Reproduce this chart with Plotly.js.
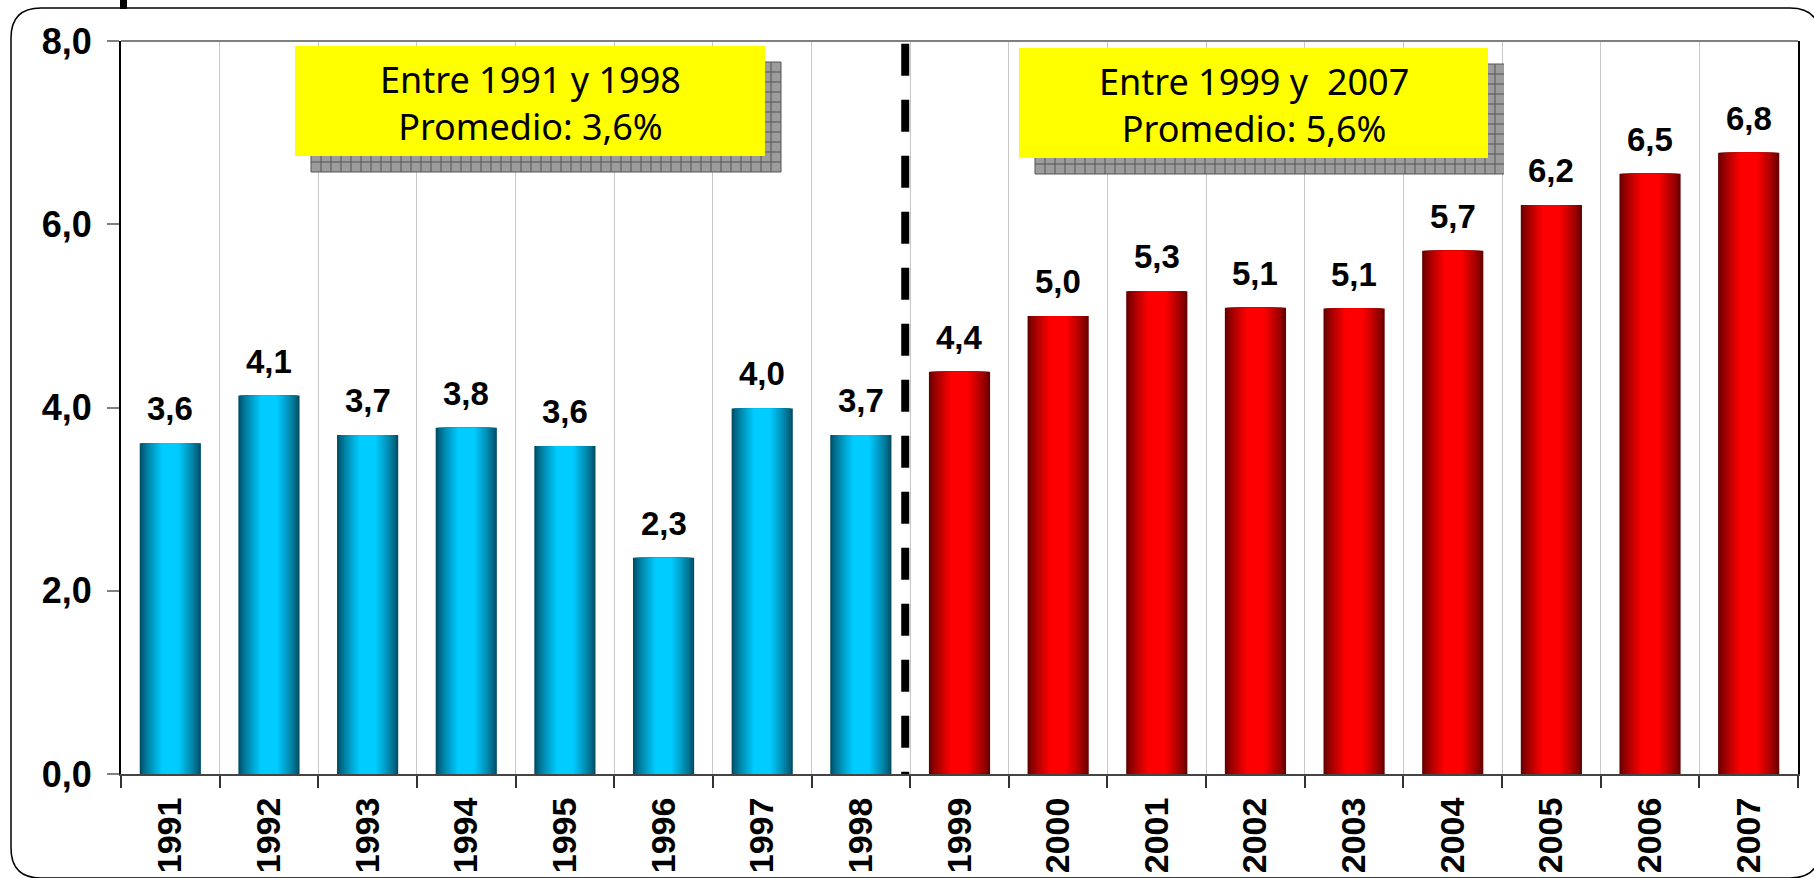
<!DOCTYPE html>
<html>
<head>
<meta charset="utf-8">
<script src="https://cdn.plot.ly/plotly-3.0.1.min.js"></script>
<style>
html,body{margin:0;padding:0;background:#fff;}
#chart{width:1814px;height:878px;}
</style>
</head>
<body>
<div id="chart"></div>
<script>
// ---- data ----
const years = ['1991','1992','1993','1994','1995','1996','1997','1998','1999','2000','2001','2002','2003','2004','2005','2006','2007'];
const values = [3.61,4.13,3.70,3.78,3.58,2.36,3.99,3.70,4.39,5.00,5.27,5.09,5.08,5.71,6.21,6.55,6.78];
const valueLabels = ['3,6','4,1','3,7','3,8','3,6','2,3','4,0','3,7','4,4','5,0','5,3','5,1','5,1','5,7','6,2','6,5','6,8'];
const firstPeriodYears = ['1991','1992','1993','1994','1995','1996','1997','1998'];
const periodNotes = ['Entre 1991 y 1998<br>Promedio: 3,6%', 'Entre 1999 y\u00A0 2007<br>Promedio: 5,6%'];

// ---- geometry helpers (pixel -> paper) ----
const W = 1814, H = 878;
const M = {l:121, r:16, t:41, b:104};
const PW = W - M.l - M.r, PH = H - M.t - M.b;
const px = x => (x - M.l) / PW;
const py = y => 1 - (y - M.t) / PH;

function hex(c){return [parseInt(c.slice(1,3),16),parseInt(c.slice(3,5),16),parseInt(c.slice(5,7),16)];}
function mix(a,b,t){const A=hex(a),B=hex(b);return 'rgb('+A.map((v,i)=>Math.round(v+(B[i]-v)*t)).join(',')+')';}

const blueDark='#004e66', blueBright='#00ccff', redDark='#660000', redBright='#ff0000';
const N = 14, fullW = 0.62;
const traces = [];
for (let i=0;i<N;i++){
  const t = i/(N-1);
  const e = Math.pow(t,0.8);
  traces.push({
    type:'bar', x:years, y:values, width:fullW*(1-0.72*t),
    marker:{color: years.map(yr => firstPeriodYears.includes(yr) ? mix(blueDark,blueBright,e) : mix(redDark,redBright,e)), line:{width:0}},
    hoverinfo: i===N-1 ? 'x+y' : 'skip', showlegend:false
  });
}

const shapes = [];
// outer rounded frame
(function(){
  const x0=11,y0=8,x1=1820,y1=878,r=30;
  const P=(x,y)=>px(x).toFixed(5)+','+py(y).toFixed(5);
  const path='M'+P(x0+r,y0)+' L'+P(x1-r,y0)+' Q'+P(x1,y0)+' '+P(x1,y0+r)+' L'+P(x1,y1-r)+' Q'+P(x1,y1)+' '+P(x1-r,y1)+
    ' L'+P(x0+r,y1)+' Q'+P(x0,y1)+' '+P(x0,y1-r)+' L'+P(x0,y0+r)+' Q'+P(x0,y0)+' '+P(x0+r,y0)+' Z';
  shapes.push({type:'path',xref:'paper',yref:'paper',path:path,line:{color:'#000',width:1.5},fillcolor:'rgba(0,0,0,0)',layer:'below'});
})();
// small mark at top
shapes.push({type:'rect',xref:'paper',yref:'paper',x0:px(120),x1:px(127),y0:py(0),y1:py(9),fillcolor:'#000',line:{width:0},layer:'above'});
// top border
shapes.push({type:'line',xref:'paper',yref:'paper',x0:0,x1:1,y0:1,y1:1,line:{color:'#808080',width:2},layer:'above'});
// dashed separator between periods (between category 7 and 8)
shapes.push({type:'line',xref:'x',yref:'y',x0:7.45,x1:7.45,y0:7.97,y1:0,line:{color:'#000',width:8,dash:'32px,24px'},layer:'above'});

// note boxes with shadow
const boxes = [
  {x0:295,y0:46,x1:765,y1:156},
  {x0:1019,y0:48,x1:1488,y1:158}
];
const annotations = [];
boxes.forEach((b,k)=>{
  const o=16;
  const sx0=b.x0+o, sy0=b.y0+o, sx1=b.x1+o, sy1=b.y1+o;
  shapes.push({type:'rect',xref:'paper',yref:'paper',x0:px(sx0),x1:px(sx1),y0:py(sy0),y1:py(sy1),fillcolor:'#9c9c9c',line:{width:0},layer:'above'});
  let gp='';
  for(let x=sx0;x<=sx1;x+=10){gp+='M'+px(x).toFixed(5)+','+py(sy0).toFixed(5)+' L'+px(x).toFixed(5)+','+py(sy1).toFixed(5)+' ';}
  for(let y=sy0;y<=sy1;y+=10){gp+='M'+px(sx0).toFixed(5)+','+py(y).toFixed(5)+' L'+px(sx1).toFixed(5)+','+py(y).toFixed(5)+' ';}
  shapes.push({type:'path',xref:'paper',yref:'paper',path:gp,line:{color:'#555',width:1},layer:'above'});
  shapes.push({type:'rect',xref:'paper',yref:'paper',x0:px(b.x0),x1:px(b.x1),y0:py(b.y0),y1:py(b.y1),fillcolor:'#ffff00',line:{width:0},layer:'above'});
  annotations.push({xref:'paper',yref:'paper',x:px((b.x0+b.x1)/2),y:py((b.y0+b.y1)/2+2),xanchor:'center',yanchor:'middle',
    text:periodNotes[k],showarrow:false,align:'center',font:{family:'"Noto Sans", "DejaVu Sans", sans-serif',size:36,color:'#000'}});
});

// value labels (x given as category index)
years.forEach((yr,i)=>{
  annotations.push({x:i,y:values[i],xref:'x',yref:'y',text:valueLabels[i],showarrow:false,xanchor:'center',yanchor:'bottom',yshift:14,
    font:{family:'Arial, "Liberation Sans", sans-serif',size:33,weight:'bold',color:'#000'}});
});

const layout = {
  width:W, height:H, margin:M, paper_bgcolor:'#fff', plot_bgcolor:'#fff',
  barmode:'overlay', separators:',.', showlegend:false,
  xaxis:{type:'category', range:[-0.5, years.length-0.5], autorange:false, tickson:'boundaries', showgrid:true, gridcolor:'#c8c8c8', gridwidth:1,
    ticks:'outside', ticklen:12, tickwidth:2, tickcolor:'#333', showline:true, linecolor:'#444', linewidth:2,
    tickangle:-90, ticklabelstandoff:8,
    tickfont:{family:'Arial, "Liberation Sans", sans-serif',size:34,weight:'bold',color:'#000'}, fixedrange:true},
  yaxis:{range:[0,8], autorange:false, dtick:2, tick0:0, tickformat:'.1f', showgrid:false, zeroline:false,
    ticks:'outside', ticklen:12, tickwidth:2, tickcolor:'#808080', showline:true, linecolor:'#000', linewidth:2, mirror:true,
    ticklabelstandoff:8,
    tickfont:{family:'Arial, "Liberation Sans", sans-serif',size:36,weight:'bold',color:'#000'}, fixedrange:true},
  shapes:shapes, annotations:annotations
};
Plotly.newPlot('chart', traces, layout, {staticPlot:true, displayModeBar:false});
</script>
</body>
</html>
